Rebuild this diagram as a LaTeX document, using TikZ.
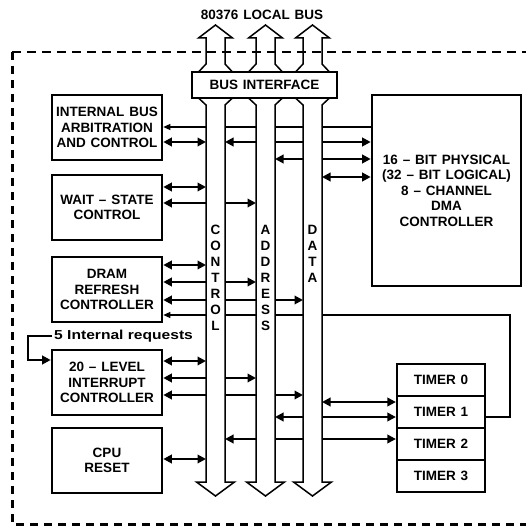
\documentclass[tikz,border=0pt]{standalone}
\usepackage{fontspec}
\setmainfont{Liberation Sans}
\newfontfamily\widefont{Liberation Sans}[FakeStretch=1.2]
\usetikzlibrary{arrows.meta}
\newcommand\lblfont{\fontsize{13.5}{15.5}\selectfont\bfseries\spaceskip=0.36em}
\newcommand\busfont{\fontsize{13.5}{16}\selectfont\bfseries}
\newcommand\reqfont{\widefont\fontsize{13}{15}\selectfont\bfseries}
\begin{document}
\begin{tikzpicture}[x=1pt,y=-1pt,
  box/.style={draw,line width=2.6pt,fill=white,align=center,inner sep=0pt,font=\lblfont},
  lbox/.style={box,minimum width=110pt,minimum height=65pt},
  tbox/.style={box,line width=2.2pt,minimum width=88pt,minimum height=32pt},
  sig/.style={line width=2pt},
  dbl/.style={sig,{Triangle[length=8.5pt,width=8.5pt]}-{Triangle[length=8.5pt,width=8.5pt]}},
  one/.style={line width=1.3pt,-{Triangle[length=7pt,width=6pt]}},
  loopline/.style={line width=2pt,-{Triangle[length=8.5pt,width=8.5pt]}},
  busline/.style={draw,fill=white,line width=1.5pt,line join=miter},
  border/.style={line width=2pt,dash pattern=on 9pt off 6pt},
  borderthick/.style={line width=3pt,dash pattern=on 8pt off 6pt},
  txt/.style={font=\lblfont,inner sep=0pt}]
\useasboundingbox (0,0) rectangle (526,527);
\fill[white] (0,0) rectangle (526,527);

% boxes
\node[lbox] (arb) at (107,127.5) {INTERNAL BUS\\ARBITRATION\\AND CONTROL};
\node[lbox] (wait) at (107,207.5) {WAIT -- STATE\\CONTROL};
\node[lbox] (dram) at (107,289.5) {DRAM\\REFRESH\\CONTROLLER};
\node[lbox] (intr) at (107,382.5) {20 -- LEVEL\\INTERRUPT\\CONTROLLER};
\node[lbox] (cpu) at (107,460.5) {CPU\\RESET};
\node[box,minimum width=149pt,minimum height=191pt] (dma) at (446.5,190.5) {16 -- BIT PHYSICAL\\(32 -- BIT LOGICAL)\\8 -- CHANNEL\\DMA\\CONTROLLER};
\node[tbox] (t0) at (441,380) {TIMER 0};
\node[tbox] (t1) at (441,412) {TIMER 1};
\node[tbox] (t2) at (441,444) {TIMER 2};
\node[tbox] (t3) at (441,476) {TIMER 3};

% bus edges
\coordinate (cL) at (206,0);
\coordinate (cR) at (225,0);
\coordinate (aL) at (256,0);
\coordinate (aR) at (275,0);
\coordinate (dL) at (303,0);
\coordinate (dR) at (322,0);

% connectors
\draw[one] (dma.west |- 0,127) -- (arb.east |- 0,127);
\draw[dbl] (arb.east |- 0,142) -- (cL |- 0,142);
\draw[dbl] (cR |- 0,142) -- (dma.west |- 0,142);
\draw[dbl] (aR |- 0,159) -- (dma.west |- 0,159);
\draw[dbl] (dR |- 0,177) -- (dma.west |- 0,177);
\draw[dbl] (wait.east |- 0,187) -- (cL |- 0,187);
\draw[dbl] (wait.east |- 0,203) -- (aL |- 0,203);
\draw[dbl] (dram.east |- 0,265) -- (cL |- 0,265);
\draw[dbl] (dram.east |- 0,282) -- (aL |- 0,282);
\draw[dbl] (dram.east |- 0,300) -- (dL |- 0,300);
\coordinate (r1) at (510,417);
\coordinate (r2) at (510,315);
\draw[one,line join=miter] (t1.east |- r1) -- (r1) -- (r2) -- (dram.east |- r2);
\draw[dbl] (intr.east |- 0,361) -- (cL |- 0,361);
\draw[dbl] (intr.east |- 0,378) -- (aL |- 0,378);
\draw[dbl] (intr.east |- 0,395) -- (dL |- 0,395);
\draw[dbl] (dR |- 0,402) -- (t1.west |- 0,402);
\draw[dbl] (aR |- 0,417) -- (t1.west |- 0,417);
\draw[dbl] (cR |- 0,439) -- (t2.west |- 0,439);
\draw[dbl] (cpu.east |- 0,459) -- (cL |- 0,459);

% internal requests loop
\node[inner sep=0pt,font=\reqfont,anchor=west] (req) at (54,336) {5 Internal requests};
\coordinate (lpA) at (28,336);
\coordinate (lpB) at (28,360);
\draw[loopline,line join=miter] ([xshift=-2pt]req.west) -- (lpA) -- (lpB) -- (intr.west |- lpB);

% buses
\foreach \c in {215.5,265.5,312.5}{
  \filldraw[busline] (\c-17,72) -- (\c-9.5,64) -- (\c-9.5,38) -- (\c-17,38) -- (\c,25) -- (\c+17,38) -- (\c+9.5,38) -- (\c+9.5,64) -- (\c+17,72);
  \filldraw[busline] (\c-17,98) -- (\c-9.5,105) -- (\c-9.5,482) -- (\c-19,482) -- (\c,496) -- (\c+19,482) -- (\c+9.5,482) -- (\c+9.5,105) -- (\c+17,98);
}
\node[box,minimum width=145pt,minimum height=26pt] (bif) at (264.5,85) {BUS INTERFACE};

% bus labels
\node[txt,align=center,font=\busfont] (ctl) at (215.5,278) {C\\O\\N\\T\\R\\O\\L};
\node[txt,align=center,font=\busfont] (adr) at (265.5,278) {A\\D\\D\\R\\E\\S\\S};
\node[txt,align=center,font=\busfont] (dat) at (312.5,254) {D\\A\\T\\A};

% boundary
\draw[border] (12,52) -- (526,52);
\draw[borderthick] (12,52) -- (12,524) -- (526,524);

% title
\node[txt] (lbus) at (262,15) {80376 LOCAL BUS};
\end{tikzpicture}
\end{document}
